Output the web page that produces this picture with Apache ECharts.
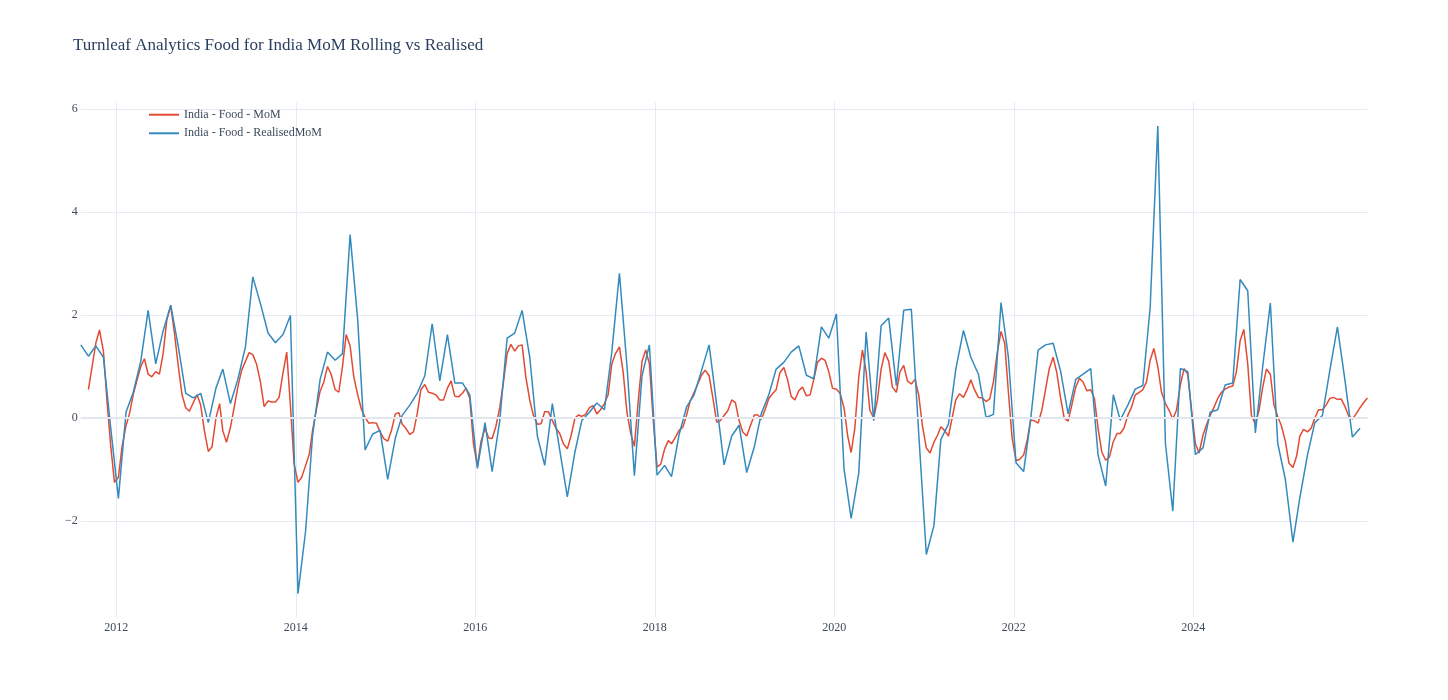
<!DOCTYPE html>
<html>
<head>
<meta charset="utf-8">
<script src="https://cdn.jsdelivr.net/npm/echarts@6/dist/echarts.min.js"></script>
<style>
html,body{margin:0;padding:0;background:#fff;}
#chart{width:1448px;height:700px;}
</style>
</head>
<body>
<div id="chart"></div>
<script>
// ---- data ----
const titleText = "Turnleaf Analytics Food for India MoM Rolling vs Realised";
const seriesNames = ["India - Food - MoM", "India - Food - RealisedMoM"];
const yTicks = [-2, 0, 2, 4, 6];
const xTickYears = [2012, 2014, 2016, 2018, 2020, 2022, 2024];

// Realised MoM: monthly, Aug 2011 .. Nov 2025
const realisedStart = {year: 2011, month: 8, day: 10};
const realisedValues = [
  1.42, 1.20, 1.40, 1.18, -0.20,
  -1.56, 0.11, 0.49, 1.10, 2.09, 1.05, 1.69, 2.19, 1.38, 0.48, 0.39, 0.48,
  -0.09, 0.58, 0.95, 0.28, 0.75, 1.38, 2.74, 2.22, 1.65, 1.46, 1.62, 1.99,
  -3.41, -2.19, -0.35, 0.75, 1.28, 1.12, 1.25, 3.56, 1.90, -0.62, -0.31, -0.24,
  -1.19, -0.39, 0.05, 0.25, 0.48, 0.82, 1.83, 0.72, 1.62, 0.68, 0.68, 0.45,
  -0.98, -0.09, -1.04, -0.05, 1.55, 1.65, 2.09, 1.18, -0.35, -0.92, 0.28, -0.62,
  -1.53, -0.66, -0.05, 0.11, 0.29, 0.16, 1.28, 2.81, 1.00, -1.12, 0.82, 1.42,
  -1.11, -0.92, -1.14, -0.32, 0.21, 0.45, 0.92, 1.42, 0.25, -0.91, -0.35, -0.14,
  -1.06, -0.56, 0.08, 0.45, 0.95, 1.08, 1.28, 1.40, 0.83, 0.76, 1.77, 1.55,
  2.02, -0.99, -1.95, -1.07, 1.67, -0.05, 1.79, 1.94, 0.63, 2.09, 2.11, -0.30,
  -2.65, -2.09, -0.42, -0.12, 0.95, 1.70, 1.18, 0.85, 0.01, 0.07, 2.24, 1.18,
  -0.87, -1.04, -0.05, 1.32, 1.42, 1.45, 0.92, 0.08, 0.75, 0.85, 0.96, -0.72,
  -1.32, 0.45, -0.04, 0.25, 0.56, 0.63, 2.15, 5.67, -0.49, -1.81, 0.96, 0.90,
  -0.71, -0.58, 0.11, 0.16, 0.64, 0.68, 2.69, 2.47, -0.29, 1.00, 2.23, -0.49,
  -1.19, -2.41, -1.55, -0.72, -0.09, 0.05, 0.92, 1.77, 0.72, -0.37, -0.20
];

// Rolling MoM forecast: twice a month (10th and 25th), Sep 2011 .. Dec 2025
const rollingStart = {year: 2011, month: 9};
const rollingValues = [
  // 2011 Sep..Dec
  0.55, 1.00, 1.45, 1.71, 1.30, 0.30, -0.55, -1.25,
  // 2012
  -1.15, -0.55, -0.15, 0.10, 0.45, 0.72, 1.00, 1.15, 0.85, 0.80, 0.90, 0.85,
  1.25, 1.90, 2.18, 1.65, 1.00, 0.45, 0.20, 0.13, 0.30, 0.45, 0.25, -0.25,
  // 2013
  -0.65, -0.56, 0.00, 0.28, -0.25, -0.47, -0.18, 0.20, 0.60, 0.92, 1.10, 1.27,
  1.23, 1.05, 0.70, 0.22, 0.33, 0.31, 0.31, 0.40, 0.88, 1.28, 0.25, -0.89,
  // 2014
  -1.25, -1.15, -0.92, -0.70, -0.25, 0.15, 0.52, 0.70, 1.00, 0.85, 0.55, 0.50,
  1.00, 1.62, 1.40, 0.80, 0.45, 0.17, 0.01, -0.10, -0.09, -0.10, -0.27, -0.40,
  // 2015
  -0.45, -0.25, 0.08, 0.10, -0.12, -0.20, -0.32, -0.27, 0.08, 0.55, 0.65, 0.50,
  0.48, 0.45, 0.35, 0.35, 0.58, 0.72, 0.42, 0.41, 0.48, 0.58, 0.38, -0.50,
  // 2016
  -0.93, -0.45, -0.20, -0.39, -0.40, -0.17, 0.20, 0.70, 1.25, 1.43, 1.30, 1.40,
  1.42, 0.80, 0.35, 0.05, -0.12, -0.11, 0.12, 0.12, -0.05, -0.20, -0.30, -0.50,
  // 2017
  -0.60, -0.35, 0.00, 0.06, 0.03, 0.07, 0.20, 0.24, 0.08, 0.16, 0.28, 0.45,
  1.05, 1.25, 1.38, 0.90, 0.10, -0.30, -0.55, 0.30, 1.10, 1.32, 1.05, 0.00,
  // 2018
  -0.95, -0.90, -0.60, -0.44, -0.50, -0.38, -0.24, -0.18, 0.05, 0.33, 0.50, 0.66,
  0.83, 0.93, 0.82, 0.40, -0.08, -0.05, 0.05, 0.14, 0.35, 0.30, -0.05, -0.27,
  // 2019
  -0.35, -0.15, 0.06, 0.06, -0.03, 0.15, 0.38, 0.47, 0.55, 0.88, 0.98, 0.75,
  0.42, 0.35, 0.53, 0.60, 0.43, 0.45, 0.75, 1.08, 1.16, 1.12, 0.90, 0.58,
  // 2020
  0.56, 0.48, 0.20, -0.35, -0.67, -0.20, 0.80, 1.32, 0.90, 0.15, 0.00, 0.35,
  0.95, 1.27, 1.10, 0.60, 0.50, 0.90, 1.02, 0.72, 0.66, 0.75, 0.45, -0.15,
  // 2021
  -0.58, -0.68, -0.47, -0.33, -0.17, -0.24, -0.35, 0.00, 0.35, 0.47, 0.40, 0.55,
  0.74, 0.55, 0.40, 0.39, 0.32, 0.37, 0.70, 1.25, 1.68, 1.45, 0.50, -0.38,
  // 2022
  -0.83, -0.80, -0.72, -0.42, -0.05, -0.05, -0.10, 0.15, 0.55, 0.95, 1.18, 0.88,
  0.40, 0.00, -0.06, 0.25, 0.60, 0.77, 0.70, 0.53, 0.55, 0.38, -0.20, -0.66,
  // 2023
  -0.82, -0.76, -0.46, -0.30, -0.30, -0.20, 0.05, 0.21, 0.45, 0.49, 0.55, 0.70,
  1.12, 1.35, 1.00, 0.50, 0.28, 0.15, -0.02, 0.15, 0.65, 0.96, 0.85, 0.17,
  // 2024
  -0.50, -0.68, -0.33, -0.12, 0.05, 0.20, 0.38, 0.50, 0.56, 0.60, 0.62, 0.90,
  1.50, 1.72, 1.05, 0.05, -0.12, 0.15, 0.60, 0.95, 0.85, 0.25, 0.03, -0.15,
  // 2025
  -0.45, -0.88, -0.96, -0.74, -0.35, -0.22, -0.27, -0.20, 0.00, 0.16, 0.16, 0.25,
  0.38, 0.40, 0.36, 0.37, 0.22, 0.04, -0.02, 0.08, 0.20, 0.30, 0.39
];

// ---- build dates (as UTC timestamps) ----
function monthAdd(y, m, add){ const t = (y * 12 + (m - 1)) + add; return [Math.floor(t / 12), (t % 12) + 1]; }
function ts(y, m, d){ return Date.UTC(y, m - 1, d); }

const realisedDates = realisedValues.map((_, i) => {
  const [y, m] = monthAdd(realisedStart.year, realisedStart.month, i);
  return ts(y, m, realisedStart.day);
});
const rollingDates = rollingValues.map((_, i) => {
  const [y, m] = monthAdd(rollingStart.year, rollingStart.month, Math.floor(i / 2));
  return ts(y, m, i % 2 === 0 ? 10 : 25);
});

const realisedData = realisedDates.map((d, i) => [d, realisedValues[i]]);
const rollingData = rollingDates.map((d, i) => [d, rollingValues[i]]);
const xTickValues = xTickYears.map(y => ts(y, 1, 1));

const fontFamily = '"Liberation Serif", "Times New Roman", serif';
const textColor = '#2a3f5f';
const tickColor = '#3d4a5c';
const gridColor = '#E6EAF2';
const zeroColor = '#E1E6EF';

const chart = echarts.init(document.getElementById('chart'), null, {renderer: 'canvas'});
chart.setOption({
  animation: false,
  backgroundColor: '#ffffff',
  title: {
    text: titleText,
    left: 73,
    top: 37,
    padding: 0,
    textStyle: {fontFamily: fontFamily, fontSize: 17, fontWeight: 'normal', color: textColor}
  },
  legend: {
    data: seriesNames,
    orient: 'vertical',
    left: 149,
    top: 107.7,
    padding: 0,
    icon: 'rect',
    itemWidth: 30,
    itemHeight: 2,
    itemGap: 4.6,
    textStyle: {fontFamily: fontFamily, fontSize: 12, lineHeight: 14, height: 14, color: tickColor}
  },
  grid: {left: 80.8, right: 80.6, top: 102.3, bottom: 82.7, containLabel: false},
  xAxis: {
    type: 'value',
    min: realisedDates[0],
    max: rollingDates[rollingDates.length - 1],
    axisLine: {show: false},
    axisTick: {show: false, customValues: xTickValues},
    axisLabel: {
      customValues: xTickValues,
      margin: 5,
      fontFamily: fontFamily, fontSize: 12, color: tickColor,
      formatter: v => String(new Date(v).getUTCFullYear())
    },
    splitLine: {show: true, lineStyle: {color: gridColor, width: 1}}
  },
  yAxis: {
    type: 'value',
    min: -3.87,
    max: 6.13,
    axisLine: {show: false},
    axisTick: {show: false, customValues: yTicks},
    axisLabel: {
      customValues: yTicks,
      margin: 3,
      fontFamily: fontFamily, fontSize: 12, color: tickColor,
      formatter: v => String(v).replace('-', '\u2212')
    },
    splitLine: {show: true, lineStyle: {color: gridColor, width: 1}}
  },
  series: [
    {
      name: 'zero',
      type: 'line',
      data: [],
      z: 1,
      silent: true,
      markLine: {
        silent: true,
        symbol: 'none',
        label: {show: false},
        emphasis: {disabled: true},
        lineStyle: {color: zeroColor, width: 2, type: 'solid', opacity: 1},
        data: [{yAxis: 0}]
      }
    },
    {
      name: seriesNames[0],
      type: 'line',
      data: rollingData,
      z: 2,
      symbol: 'none',
      showSymbol: false,
      lineStyle: {color: '#E24A33', width: 1.5},
      itemStyle: {color: '#E24A33'}
    },
    {
      name: seriesNames[1],
      type: 'line',
      data: realisedData,
      z: 3,
      symbol: 'none',
      showSymbol: false,
      lineStyle: {color: '#348ABD', width: 1.5},
      itemStyle: {color: '#348ABD'}
    }
  ]
});
</script>
</body>
</html>
